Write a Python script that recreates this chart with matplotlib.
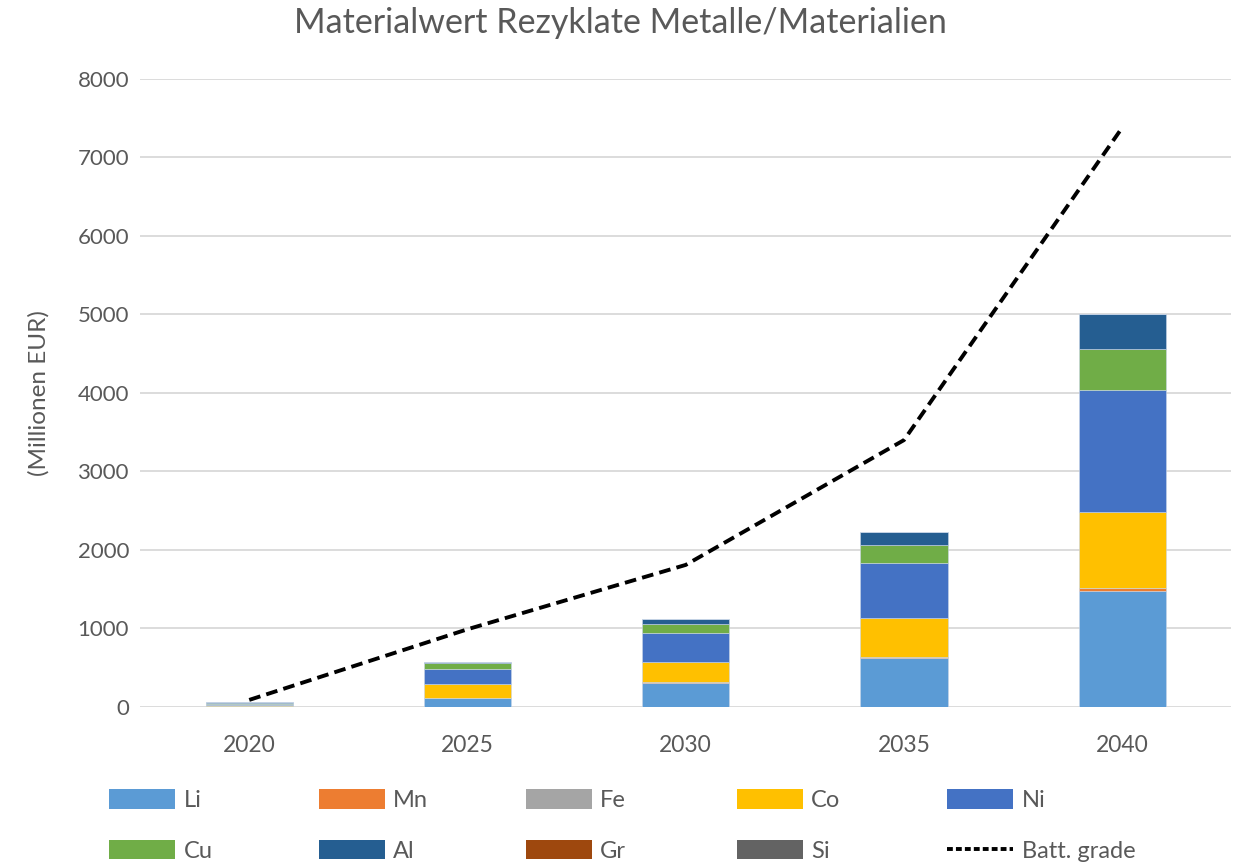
import matplotlib
matplotlib.use("Agg")
import matplotlib.pyplot as plt
from matplotlib.lines import Line2D
from matplotlib.patches import Patch
import numpy as np

plt.rcParams['font.family'] = ['Lato', 'DejaVu Sans']

years = ["2020", "2025", "2030", "2035", "2040"]

# Material values of recyclates, million EUR
li = [8, 111, 310, 630, 1478]
mn = [1, 3, 5, 8, 38]
fe = [0, 0, 0, 0, 0]
co = [12, 180, 262, 496, 964]
ni = [22, 195, 370, 696, 1562]
cu = [12, 68, 114, 234, 522]
al = [6, 21, 60, 161, 442]
gr = [0, 0, 0, 0, 0]
si = [0, 0, 0, 0, 0]

batt_grade = [90, 990, 1810, 3400, 7380]

series = [
    ("Li", li, "#5B9BD5"),
    ("Mn", mn, "#ED7D31"),
    ("Fe", fe, "#A5A5A5"),
    ("Co", co, "#FFC000"),
    ("Ni", ni, "#4472C4"),
    ("Cu", cu, "#70AD47"),
    ("Al", al, "#255E91"),
    ("Gr", gr, "#9E480E"),
    ("Si", si, "#636363"),
]

text_color = "#595959"

fig = plt.figure(figsize=(12.4, 8.68), dpi=100)
ax = fig.add_axes([0.113, 0.1855, 0.88, 0.7235])

x = np.arange(len(years))
bottom = np.zeros(len(years))
handles = []
for name, vals, color in series:
    vals = np.array(vals, dtype=float)
    ax.bar(x, vals, width=0.4, bottom=bottom, color=color,
           edgecolor="#C9D6E8", linewidth=0.4, zorder=3)
    bottom += vals
    handles.append(Patch(facecolor=color, label=name))

ax.plot(x, batt_grade, color="black", linestyle=(0, (3, 1.6)),
        linewidth=2.8, zorder=4)
handles.append(Line2D([0], [0], color="black", linestyle=(0, (1.5, 0.8)),
                      linewidth=2.8, label="Batt. grade"))

ax.set_xlim(-0.5, len(years) - 0.5)
ax.set_ylim(0, 8000)
ax.set_yticks(np.arange(0, 8001, 1000))
ax.set_xticks(x)
ax.set_xticklabels(years)
ax.yaxis.grid(True, color="#D9D9D9", linewidth=1.3, zorder=0)
ax.set_axisbelow(True)
for s in ax.spines.values():
    s.set_visible(False)
ax.tick_params(axis="y", length=0, labelsize=16, colors=text_color, pad=8)
ax.tick_params(axis="x", length=0, labelsize=16.5, colors=text_color, pad=20)

ax.set_ylabel("(Millionen EUR)", fontsize=17.5, color=text_color, labelpad=20)
fig.text(0.5, 0.973, "Materialwert Rezyklate Metalle/Materialien",
         ha="center", va="center", fontsize=24.5, color=text_color)

# Legend laid out as a 5 x 2 grid
col_x = [0.088, 0.257, 0.424, 0.594, 0.764]
row_y = [0.078, 0.02]
for i, h in enumerate(handles):
    r, c = divmod(i, 5)
    fig.legend(handles=[h], labels=[h.get_label()], loc="center left",
               bbox_to_anchor=(col_x[c], row_y[r]), frameon=False,
               fontsize=17, labelcolor=text_color, handlelength=2.8,
               handleheight=0.9, handletextpad=0.35, borderpad=0,
               borderaxespad=0)

fig.savefig("out.png", dpi=100)
